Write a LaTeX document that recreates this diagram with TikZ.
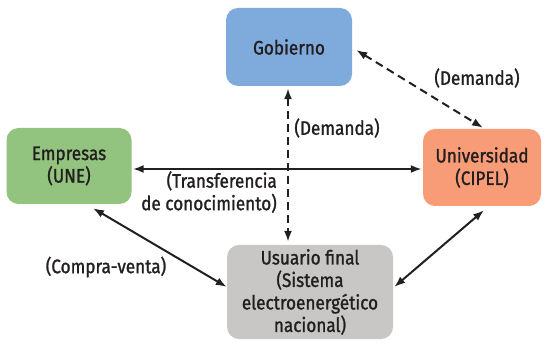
\documentclass[tikz,border=0pt]{standalone}
\usepackage{fontspec}
\setmainfont[FakeStretch=0.88,FakeBold=1.3]{Fira Sans}
\usetikzlibrary{calc,arrows.meta}
\definecolor{cblue}{HTML}{7FAADC}
\definecolor{cgreen}{HTML}{93C47F}
\definecolor{csalmon}{HTML}{F89C78}
\definecolor{cgray}{HTML}{C8C7C5}
\definecolor{ctext}{HTML}{231F20}
\tikzset{
  box/.style={rounded corners=12pt, inner sep=0pt, align=center, text=ctext,
    font=\fontsize{19.5}{22.5}\selectfont},
  lbl/.style={text=ctext, font=\fontsize{19.5}{22.5}\selectfont, inner sep=0pt},
  conn/.style={line width=2pt, draw=ctext, {Latex[length=11pt,width=8pt]}-{Latex[length=11pt,width=8pt]}},
  dconn/.style={conn, dash pattern=on 8pt off 5pt},
}
\begin{document}
\begin{tikzpicture}[x=1pt,y=-1pt]
\useasboundingbox (0,0) rectangle (545,344);
\node[box, fill=cblue, minimum width=126pt, minimum height=78pt] (gob) at (289,47) {Gobierno};
\node[box, fill=cgreen, minimum width=125pt, minimum height=76pt] (emp) at (69,166) {Empresas\\(UNE)};
\node[box, fill=csalmon, minimum width=118pt, minimum height=77pt] (uni) at (482,167.5) {Universidad\\(CIPEL)};
\node[box, fill=cgray, minimum width=166pt, minimum height=94pt] (usu) at (310,292) {Usuario final\\(Sistema\\electroenerg\'etico\\nacional)};

\draw[dconn] ($(gob.east)+(4,3)$) -- ($(uni.north)+(1,-1)$);
\draw[dconn] ($(gob.south)+(-1,2)$) -- ($(usu.north)+(-22,-3)$);
\draw[conn] ($(emp.east)+(1,3)$) -- ($(uni.west)+(-1,1.5)$);
\draw[conn] ($(emp.south)+(24,4)$) -- ($(usu.west)+(0,-5)$);
\draw[conn] ($(uni.south)+(2,4)$) -- ($(usu.east)+(1,-5)$);

\node[lbl] (l1) at (477,78) {(Demanda)};
\node[lbl] (l2) at (337,128) {(Demanda)};
\node[lbl, align=right, anchor=north east] (l3) at (277,171) {(Transferencia\\de conocimiento)};
\node[lbl] (l4) at (106,267) {(Compra-venta)};
\end{tikzpicture}
\end{document}
